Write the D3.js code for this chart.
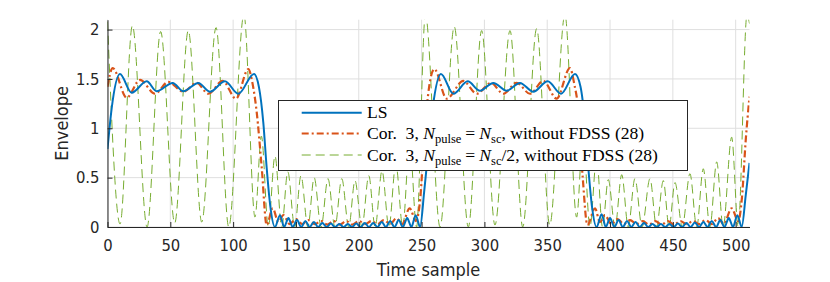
<!DOCTYPE html>
<html>
<head>
<meta charset="utf-8">
<script src="https://cdn.jsdelivr.net/npm/d3@7"></script>
<style>
  body { margin: 0; background: #fff; }
  svg text { font-family: "Liberation Sans Narrow", "DejaVu Sans Condensed", sans-serif; fill: #262626; }
  .legend text { font-family: "Liberation Serif", serif; fill: #000; }
</style>
</head>
<body>
<svg id="chart" width="830" height="282"></svg>
<script>
// envelope readings: [time sample, envelope]
const lsPoints = [
  [0,0.79],[3.3,1.2],[9.9,1.55],[19.2,1.36],[31.2,1.476],[39.1,1.375],[51.9,1.46],[60.4,1.375],
  [72.3,1.46],[81.6,1.37],[93.5,1.476],[104.1,1.35],[116.6,1.55],[120.5,1.42],[124,1.06],
  [126.7,0.6],[129.5,0.22],[133.3,0],
  [137.3,0.12],[140.6,0],[144,0.09],[147.4,0],[150.8,0.07],[154.2,0],[157.5,0.06],[160.9,0],
  [164.3,0.05],[167.6,0],[171,0.04],[174.4,0],[177.8,0.035],[181.1,0],[184.5,0.03],[187.9,0],
  [191.3,0.03],[194.6,0],[198,0.035],[201.4,0],[204.8,0.04],[208.1,0],[211.5,0.04],[214.9,0],
  [218.3,0.05],[221.6,0],[225,0.06],[228.4,0],[231.8,0.07],[235.1,0],[238.5,0.09],[241.9,0],
  [245.3,0.12],[248.8,0],
  [252,0.35],[255.5,0.8],[259,1.22],[265.4,1.55],[275.3,1.35],[286.7,1.476],[296.5,1.38],
  [307.1,1.46],[317.7,1.38],[328.3,1.46],[338.9,1.37],[350.4,1.476],[361,1.35],[372.1,1.55],
  [376.5,1.42],[380,1.06],[382.7,0.6],[385.5,0.22],[389.3,0],
  [393.3,0.13],[396.6,0],[400,0.09],[403.4,0],[406.8,0.07],[410.2,0],[413.5,0.06],[416.9,0],
  [420.3,0.05],[423.6,0],[427,0.04],[430.4,0],[433.8,0.03],[437.1,0],[440.5,0.03],[443.9,0],
  [447.3,0.03],[450.6,0],[454,0.035],[457.4,0],[460.8,0.04],[464.1,0],[467.5,0.045],[470.9,0],
  [474.3,0.05],[477.6,0],[481,0.06],[484.4,0],[487.8,0.07],[491.1,0],[494.5,0.09],[497.9,0],
  [501.3,0.12],[504.8,0],[508,0.32],[511,0.65]
];

const cor3Points = [
  [0,1.42],[4.1,1.61],[15.3,1.31],[25.9,1.49],[37.8,1.35],[48.4,1.47],[60.3,1.37],[71,1.46],
  [80.2,1.35],[91.7,1.48],[102.3,1.3],[112.1,1.6],[115.5,1.45],[118.7,1.17],[122.7,0.61],[126.7,0.02],
  [131.5,0.19],[136,0.05],[140,0.12],[145,0.03],[150,0.08],[155,0.03],[160,0.07],[165,0.03],
  [170,0.06],[175,0.025],[180,0.06],[185,0.025],[190,0.06],[195,0.025],[200,0.06],[205,0.03],
  [210,0.06],[215,0.03],[220,0.07],[225,0.03],[230,0.09],[234.5,0.03],[240.5,0.19],[245.5,0.06],
  [249,0.3],[252,0.88],[256,1.42],[260.1,1.6],[270,1.3],[283.2,1.48],[293.9,1.35],[305.2,1.46],
  [315,1.35],[325.7,1.46],[336.3,1.35],[346.9,1.48],[357.5,1.3],[368.1,1.61],[371.5,1.45],
  [374.7,1.19],[378.2,0.51],[382,0.02],
  [388,0.19],[392,0.05],[396,0.12],[401,0.03],[406,0.08],[411,0.03],[416,0.07],[421,0.03],
  [426,0.06],[431,0.025],[436,0.06],[441,0.025],[446,0.06],[451,0.025],[456,0.06],[461,0.03],
  [466,0.06],[471,0.03],[476,0.07],[481,0.03],[486,0.09],[490.5,0.03],[496.8,0.19],[502,0.06],
  [505,0.3],[508,0.88],[511,1.32]
];

const cor3HalfPoints = [
  [0,2.08],[10,0.03],[19.8,2.04],[31.5,0],[42.3,1.98],[53.5,0.04],[64.3,1.99],[75,0.05],
  [86.4,2.02],[96.5,0],[108.6,2.15],[117.4,0.1],[122.5,0.92],[128,0],[133.3,0.72],[138.7,0],
  [143.5,0.56],[149,0],[154,0.52],[159.5,0],[164.5,0.5],[170,0],[175.5,0.49],[181,0],
  [186.5,0.49],[192,0],[197,0.47],[202.5,0],[208,0.52],[213,0],[218.5,0.57],[224,0],
  [229.5,0.64],[235,0],[240.5,0.86],[246,0],[253,2.15],[264.7,0],[276,2.03],[287.2,0],
  [297.8,1.99],[308.4,0.02],[320.4,1.99],[330.5,0],[341.6,2.01],[352,0.02],[364.1,2.15],
  [373.4,0.1],[378.5,0.93],[384,0],[389.3,0.7],[394,0],[398.6,0.48],[404,0],[409.3,0.53],
  [414.5,0],[419.8,0.49],[425.5,0],[431.8,0.49],[437,0],[442.4,0.47],[447,0],[451.7,0.45],
  [457.5,0],[463.6,0.54],[469,0],[474.2,0.59],[479.5,0],[484.9,0.66],[490,0],[496.8,0.91],
  [502,0],[509,2.15],[511,2.06]
];

const xTicks = [0, 50, 100, 150, 200, 250, 300, 350, 400, 450, 500];
const yTicks = [0, 0.5, 1, 1.5, 2];

// legend rows: plain text, italic math and subscripts (gap = extra math spacing)
const legendRows = [
  [{t: 'LS'}],
  [{t: 'Cor.  3, '}, {t: 'N', it: true}, {t: 'pulse', sub: true}, {t: '=', gap: 4}, {t: 'N', it: true, gap: 4},
   {t: 'sc', sub: true}, {t: ', without FDSS (28)'}],
  [{t: 'Cor.  3, '}, {t: 'N', it: true}, {t: 'pulse', sub: true}, {t: '=', gap: 4}, {t: 'N', it: true, gap: 4},
   {t: 'sc', sub: true}, {t: '/2, without FDSS (28)'}]
];

const series = [
  {data: lsPoints, color: '#0072BD', width: 2, dash: null},
  {data: cor3Points, color: '#D95319', width: 2.2, dash: '7,3,2,3'},
  {data: cor3HalfPoints, color: '#77AC30', width: 1, dash: '9,5'}
];

const svg = d3.select('#chart');
const plotLeft = 107.5, plotRight = 749.5, plotTop = 19.7, plotBottom = 227;

const x = d3.scaleLinear().domain([0, 511]).range([plotLeft, plotRight]);
const y = d3.scaleLinear().domain([0, 2.1]).range([plotBottom, plotTop]);

// grid
const grid = svg.append('g');
grid.selectAll('.vg').data(xTicks).enter().append('line')
  .attr('x1', d => x(d)).attr('x2', d => x(d))
  .attr('y1', plotTop).attr('y2', plotBottom)
  .attr('stroke', '#dfdfdf').attr('stroke-width', 1);
grid.selectAll('.hg').data(yTicks).enter().append('line')
  .attr('x1', plotLeft).attr('x2', plotRight)
  .attr('y1', d => y(d)).attr('y2', d => y(d))
  .attr('stroke', '#dfdfdf').attr('stroke-width', 1);

// clip to the axes box
svg.append('clipPath').attr('id', 'plotclip')
  .append('rect').attr('x', plotLeft).attr('y', plotTop)
  .attr('width', plotRight - plotLeft).attr('height', plotBottom - plotTop);

const line = d3.line()
  .x(d => x(d[0]))
  .y(d => y(d[1]))
  .curve(d3.curveMonotoneX);

const plot = svg.append('g').attr('clip-path', 'url(#plotclip)');
series.slice().reverse().forEach(s => {
  plot.append('path')
    .datum(s.data)
    .attr('d', line)
    .attr('fill', 'none')
    .attr('stroke', s.color)
    .attr('stroke-width', s.width)
    .attr('stroke-dasharray', s.dash)
    .attr('stroke-linejoin', 'round');
});

// axes, ticks inside like MATLAB
const xAxis = svg.append('g')
  .attr('transform', `translate(0,${plotBottom})`)
  .call(d3.axisBottom(x).tickValues(xTicks).tickFormat(d3.format('d'))
    .tickSizeInner(-5).tickSizeOuter(0).tickPadding(12));
const yAxis = svg.append('g')
  .attr('transform', `translate(${plotLeft},0)`)
  .call(d3.axisLeft(y).tickValues(yTicks).tickFormat(d => d)
    .tickSizeInner(-5).tickSizeOuter(0).tickPadding(8));

[xAxis, yAxis].forEach(a => {
  a.select('.domain').attr('stroke', '#262626').attr('stroke-width', 1);
  a.selectAll('.tick line').attr('stroke', '#262626');
  a.selectAll('.tick text').attr('font-size', 16.5).attr('fill', '#262626')
    .style('font-family', '"Liberation Sans Narrow", "DejaVu Sans Condensed", sans-serif');
});

svg.append('text')
  .attr('x', (plotLeft + plotRight) / 2).attr('y', 276)
  .attr('text-anchor', 'middle').attr('font-size', 18)
  .text('Time sample');
svg.append('text')
  .attr('transform', `translate(68,${(plotTop + plotBottom) / 2}) rotate(-90)`)
  .attr('text-anchor', 'middle').attr('font-size', 18)
  .text('Envelope');

// legend
const lg = svg.append('g').attr('class', 'legend');
lg.append('rect')
  .attr('x', 278.5).attr('y', 100.5).attr('width', 409).attr('height', 70)
  .attr('fill', '#fff').attr('stroke', '#262626').attr('stroke-width', 1);

const rowY = [112.7, 133.5, 155];
legendRows.forEach((row, i) => {
  const s = series[i];
  lg.append('line')
    .attr('x1', 301.7).attr('x2', 361.7)
    .attr('y1', rowY[i]).attr('y2', rowY[i])
    .attr('stroke', s.color).attr('stroke-width', s.width)
    .attr('stroke-dasharray', s.dash);
  const txt = lg.append('text')
    .attr('x', 367).attr('y', rowY[i] + 5.5)
    .attr('font-size', 17.6)
    .attr('xml:space', 'preserve');
  let shifted = false;
  row.forEach(seg => {
    const ts = txt.append('tspan').text(seg.t);
    if (seg.it) ts.attr('font-style', 'italic');
    if (seg.gap) ts.attr('dx', seg.gap);
    if (seg.sub) {
      ts.attr('font-size', 12.5).attr('dy', 4);
      shifted = true;
    } else if (shifted) {
      ts.attr('dy', -4);
      shifted = false;
    }
  });
});
</script>
</body>
</html>
